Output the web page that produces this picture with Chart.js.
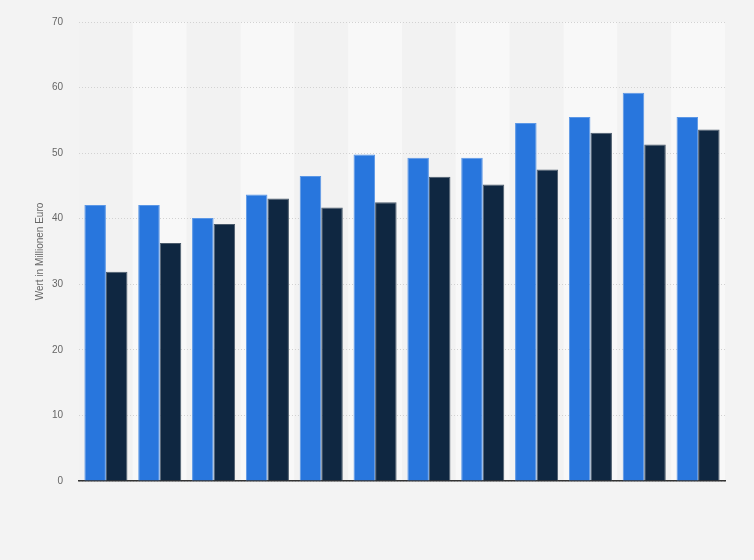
<!DOCTYPE html>
<html>
<head>
<meta charset="utf-8">
<script src="https://cdn.jsdelivr.net/npm/chart.js@4"></script>
<style>
  html, body { margin: 0; padding: 0; background: #f3f3f3; }
  #wrap { width: 754px; height: 560px; }
</style>
</head>
<body>
<div id="wrap"><canvas id="myChart"></canvas></div>
<script>
// categories have no visible labels in the original
const categories = ['1', '2', '3', '4', '5', '6', '7', '8', '9', '10', '11', '12'];
const seriesBlue = [42.1, 42.1, 40.1, 43.7, 46.5, 49.8, 49.3, 49.3, 54.6, 55.5, 59.2, 55.5];
const seriesNavy = [31.9, 36.3, 39.2, 43.1, 41.7, 42.5, 46.4, 45.2, 47.5, 53.1, 51.3, 53.6];
const yTicks = [0, 10, 20, 30, 40, 50, 60, 70];

// alternating column bands behind the bars
const bands = {
    id: 'bands',
    beforeDraw(chart) {
        const { ctx, chartArea } = chart;
        const step = (chartArea.right - chartArea.left) / categories.length;
        ctx.save();
        categories.forEach((c, i) => {
            ctx.fillStyle = i % 2 === 0 ? '#f2f2f2' : '#f8f8f8';
            ctx.fillRect(chartArea.left + i * step, chartArea.top, step, chartArea.bottom - chartArea.top);
        });
        ctx.restore();
    }
};

const data = {
    labels: categories,
    datasets: [{
        data: seriesBlue,
        backgroundColor: '#2876dd',
        borderColor: '#5b97e6',
        borderWidth: 1,
        categoryPercentage: 0.8,
        barPercentage: 1.0
    }, {
        data: seriesNavy,
        backgroundColor: '#0f2741',
        borderColor: '#4b5b6c',
        borderWidth: 1,
        categoryPercentage: 0.8,
        barPercentage: 1.0
    }]
};

const config = {
    type: 'bar',
    data: data,
    options: {
        responsive: true,
        maintainAspectRatio: false,
        animation: false,
        layout: { padding: { top: 20, right: 29, bottom: 79, left: 0 } },
        plugins: {
            legend: { display: false },
            tooltip: { enabled: false }
        },
        scales: {
            x: {
                ticks: { display: false },
                grid: { display: false, drawTicks: false },
                border: { display: true, color: '#333333', width: 1.5 }
            },
            y: {
                min: 0,
                max: 70,
                afterBuildTicks: scale => { scale.ticks = yTicks.map(v => ({ value: v })); },
                afterFit: scale => { scale.width = 79; },
                ticks: {
                    color: '#666666',
                    padding: 16,
                    font: { family: 'Liberation Sans', size: 10 }
                },
                grid: {
                    color: '#d2d2d2',
                    drawTicks: false
                },
                border: { display: false, dash: [1, 2] },
                title: {
                    display: true,
                    text: 'Wert in Millionen Euro',
                    color: '#666666',
                    padding: { top: 34, bottom: 0 },
                    font: { family: 'Liberation Sans', size: 10 }
                }
            }
        }
    },
    plugins: [bands]
};

new Chart(document.getElementById('myChart'), config);
</script>
</body>
</html>
